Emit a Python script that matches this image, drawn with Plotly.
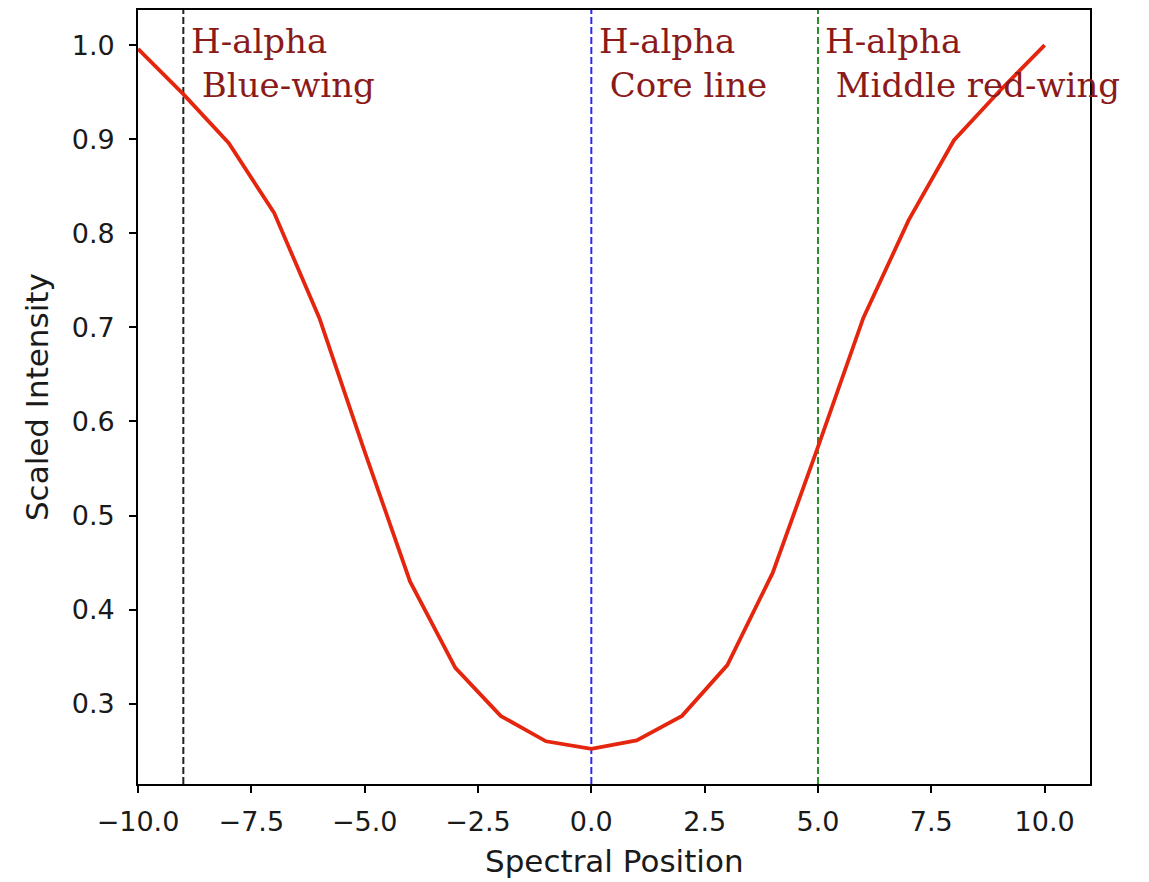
import plotly.graph_objects as go

# Spectral positions and scaled H-alpha line intensity
spectral_position = [-10, -9, -8, -7, -6, -5, -4, -3, -2, -1, 0,
                     1, 2, 3, 4, 5, 6, 7, 8, 9, 10]
scaled_intensity = [0.996, 0.948, 0.896, 0.822, 0.710, 0.568, 0.430, 0.338,
                    0.287, 0.260, 0.252, 0.261, 0.287, 0.341, 0.439, 0.573,
                    0.710, 0.814, 0.899, 0.951, 1.000]

# Marker lines for the chosen filter positions
marker_positions = [-9, 0, 5]
marker_colors = ["#222222", "#2a2af0", "#2e8b2e"]
marker_titles = ["H-alpha", "H-alpha", "H-alpha"]
marker_names = ["Blue-wing", "Core line", "Middle red-wing"]

x_ticks = [-10.0, -7.5, -5.0, -2.5, 0.0, 2.5, 5.0, 7.5, 10.0]
x_ticklabels = ["\u221210.0", "\u22127.5", "\u22125.0", "\u22122.5", "0.0",
                "2.5", "5.0", "7.5", "10.0"]
y_ticks = [0.3, 0.4, 0.5, 0.6, 0.7, 0.8, 0.9, 1.0]
y_ticklabels = ["0.3", "0.4", "0.5", "0.6", "0.7", "0.8", "0.9", "1.0"]

y_lo, y_hi = min(scaled_intensity), max(scaled_intensity)
pad = 0.05 * (y_hi - y_lo)
y_range = [y_lo - pad, y_hi + pad]
x_range = [-10, 11]

fig = go.Figure()

for xpos, col in zip(marker_positions, marker_colors):
    fig.add_shape(type="line", xref="x", yref="paper", x0=xpos, x1=xpos,
                  y0=0, y1=1, line=dict(color=col, width=2, dash="7px,3px"),
                  layer="below")

fig.add_trace(go.Scatter(
    x=spectral_position, y=scaled_intensity, mode="lines",
    line=dict(color="#e5260e", width=3.8),
    showlegend=False, hoverinfo="skip",
))

label_font = dict(family="DejaVu Serif", size=34, color="#8b1a1a")
for xpos, head, name in zip(marker_positions, marker_titles, marker_names):
    fig.add_annotation(
        x=xpos + 0.12, y=1.0, xref="x", yref="paper",
        text=head + "<br>\u00a0" + name,
        showarrow=False, xanchor="left", yanchor="middle", yshift=-53,
        align="left", font=label_font,
    )

axis_common = dict(
    showline=True, linecolor="black", linewidth=1.8, mirror=True,
    ticks="outside", ticklen=7, tickwidth=1.8, tickcolor="black",
    showgrid=False, zeroline=False,
    tickfont=dict(family="DejaVu Sans", size=27, color="#1a1a1a"),
)

fig.update_xaxes(
    range=x_range, tickmode="array", tickvals=x_ticks, ticktext=x_ticklabels,
    ticklabelstandoff=6, **axis_common,
)
fig.update_yaxes(
    range=y_range, tickmode="array", tickvals=y_ticks, ticktext=y_ticklabels,
    ticklabelstandoff=9, **axis_common,
)

title_font = dict(family="DejaVu Sans", size=31, color="#1a1a1a")
fig.add_annotation(
    x=0.5, y=-0.099, xref="paper", yref="paper", text="Spectral Position",
    showarrow=False, xanchor="center", yanchor="middle", font=title_font,
)
fig.add_annotation(
    x=-0.106, y=0.5, xref="paper", yref="paper", text="Scaled Intensity",
    showarrow=False, xanchor="center", yanchor="middle", textangle=-90,
    font=title_font,
)

fig.update_layout(
    width=1149, height=882,
    margin=dict(l=138, r=59, t=10, b=98, autoexpand=False),
    plot_bgcolor="white", paper_bgcolor="white",
)

fig.write_html("out.html")
